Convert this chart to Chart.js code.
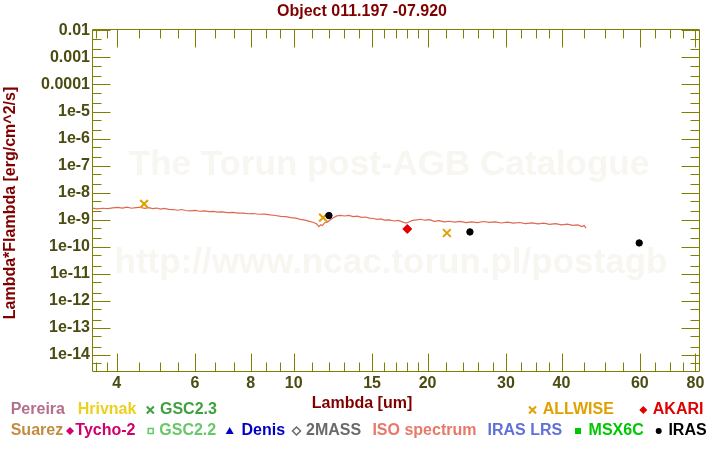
<!DOCTYPE html>
<html>
<head>
<meta charset="utf-8">
<script src="https://cdn.jsdelivr.net/npm/chart.js@4.4.0/dist/chart.umd.min.js"></script>
<style>
  html, body { margin: 0; padding: 0; background: #fff; }
  #wrap { width: 720px; height: 450px; }
</style>
</head>
<body>
<div id="wrap"><canvas id="sed" width="720" height="450"></canvas></div>
<script>
// SED plot - Torun post-AGB catalogue style

var FONT = "'Liberation Sans', Arial, Helvetica, sans-serif";
var AXIS = '#808000';
var LABEL = '#4b4b12';
var MAROON = '#800000';

// ---- data ----
var X_TICKS = [4, 6, 8, 10, 15, 20, 30, 40, 60, 80];
var X_MINOR = [3.6, 3.8, 4.5, 5, 5.5, 6.667, 7.333, 8.667, 9.333, 11, 12, 13, 14, 16, 17, 18, 19,
               22, 24, 26, 28, 32.5, 35, 37.5, 45, 50, 55, 65, 70, 75];
var Y_TICKS = [1e-2, 1e-3, 1e-4, 1e-5, 1e-6, 1e-7, 1e-8, 1e-9, 1e-10, 1e-11, 1e-12, 1e-13, 1e-14];
var Y_TICK_LABELS = ['0.01', '0.001', '0.0001', '1e-5', '1e-6', '1e-7', '1e-8', '1e-9',
                     '1e-10', '1e-11', '1e-12', '1e-13', '1e-14'];
var Y_MINOR_MULT = [2, 5];

// ISO spectrum (um, erg/cm^2/s)
var ISO_LAMBDA = [3.52, 3.62, 3.72, 3.82, 3.92, 4.02, 4.12, 4.22, 4.32, 4.42, 4.52, 4.62, 4.72, 4.82, 4.92,
  5.02, 5.12, 5.24, 5.36, 5.48, 5.60, 5.72, 5.85, 6.0, 6.15, 6.3, 6.45, 6.6, 6.75, 6.9,
  7.1, 7.3, 7.5, 7.7, 7.9, 8.1, 8.35, 8.6, 8.85, 9.1, 9.35, 9.6, 9.85, 10.1, 10.35, 10.6,
  10.85, 11.05, 11.25, 11.4, 11.5, 11.6, 11.75, 11.9, 12.05, 12.25, 12.5, 12.75, 13.0, 13.3,
  13.6, 13.9, 14.2, 14.5, 14.8, 15.1, 15.4, 15.7, 16.0, 16.4, 16.8, 17.2, 17.6, 17.9, 18.2,
  18.5, 18.9, 19.3, 19.7, 20.2, 20.7, 21.2, 21.8, 22.4, 23.0, 23.7, 24.4, 25.1, 25.9, 26.7,
  27.5, 28.4, 29.3, 30.2, 31.2, 32.2, 33.2, 34.3, 35.4, 36.5, 37.6, 38.8, 40.0, 41.2, 42.4,
  43.5, 44.4, 45.0, 45.4];
var ISO_FLUX = [2.66e-9, 2.50e-9, 2.63e-9, 2.57e-9, 2.70e-9, 2.83e-9, 2.68e-9, 2.90e-9, 2.63e-9, 2.78e-9,
  2.87e-9, 2.60e-9, 2.76e-9, 2.57e-9, 2.68e-9, 2.45e-9, 2.61e-9, 2.39e-9, 2.36e-9, 2.22e-9,
  2.36e-9, 2.17e-9, 2.10e-9, 2.19e-9, 2.04e-9, 2.12e-9, 1.96e-9, 2.03e-9, 1.88e-9, 1.93e-9,
  1.82e-9, 1.85e-9, 1.74e-9, 1.75e-9, 1.65e-9, 1.68e-9, 1.58e-9, 1.60e-9, 1.49e-9, 1.42e-9,
  1.31e-9, 1.28e-9, 1.19e-9, 1.13e-9, 1.02e-9, 0.96e-9, 0.86e-9, 0.80e-9, 0.70e-9, 0.55e-9,
  0.65e-9, 0.60e-9, 0.77e-9, 0.81e-9, 0.95e-9, 1.14e-9, 1.37e-9, 1.44e-9, 1.36e-9, 1.43e-9,
  1.30e-9, 1.34e-9, 1.21e-9, 1.25e-9, 1.13e-9, 1.10e-9, 1.02e-9, 1.06e-9, 0.96e-9, 0.98e-9,
  0.89e-9, 0.93e-9, 0.81e-9, 0.74e-9, 0.83e-9, 0.93e-9, 0.97e-9, 1.03e-9, 0.95e-9, 0.99e-9,
  0.86e-9, 0.92e-9, 0.82e-9, 0.87e-9, 0.81e-9, 0.86e-9, 0.78e-9, 0.83e-9, 0.77e-9, 0.85e-9,
  0.79e-9, 0.82e-9, 0.75e-9, 0.80e-9, 0.74e-9, 0.78e-9, 0.71e-9, 0.76e-9, 0.69e-9, 0.74e-9,
  0.67e-9, 0.71e-9, 0.64e-9, 0.68e-9, 0.61e-9, 0.64e-9, 0.55e-9, 0.60e-9, 0.48e-9];

var ALLWISE_LAMBDA = [4.61, 11.64, 22.1];
var ALLWISE_FLUX = [3.8e-9, 1.18e-9, 3.2e-10];
var IRAS_LAMBDA = [12.0, 24.9, 59.8];
var IRAS_FLUX = [1.41e-9, 3.5e-10, 1.37e-10];
var AKARI_LAMBDA = [18.0];
var AKARI_FLUX = [4.5e-10];

function pts(xs, ys) {
  return xs.map(function (x, i) { return { x: x, y: ys[i] }; });
}

// ---- legend (text + marker), drawn below the plot ----
var LEGEND = [
  { t: 'Pereira', c: '#b46e8c', x: 10.7, row: 0 },
  { t: 'Hrivnak', c: '#ecd020', x: 77.7, row: 0 },
  { t: 'GSC2.3', c: '#40a040', x: 160, row: 0, m: 'x', mx: 150.3 },
  { t: 'ALLWISE', c: '#e0a000', x: 542.7, row: 0, m: 'x', mx: 532.5 },
  { t: 'AKARI', c: '#e00000', x: 652.8, row: 0, m: 'diamond', mx: 643.3 },
  { t: 'Suarez', c: '#c48c40', x: 10.7, row: 1 },
  { t: 'Tycho-2', c: '#d0006c', x: 75.3, row: 1, m: 'diamond', mx: 70 },
  { t: 'GSC2.2', c: '#66c866', x: 159.3, row: 1, m: 'squareOpen', mx: 150.7 },
  { t: 'Denis', c: '#0000c8', x: 241.5, row: 1, m: 'triangle', mx: 229.7 },
  { t: '2MASS', c: '#6a6a6a', x: 306, row: 1, m: 'diamondOpen', mx: 296.5 },
  { t: 'ISO spectrum', c: '#e87868', x: 372.4, row: 1 },
  { t: 'IRAS LRS', c: '#6070d8', x: 487.5, row: 1 },
  { t: 'MSX6C', c: '#00c800', x: 588.6, row: 1, m: 'square', mx: 578 },
  { t: 'IRAS', c: '#000000', x: 668.4, row: 1, m: 'dot', mx: 658.7 }
];
var ROW_Y = [410, 431];

function drawMark(ctx, kind, cx, cy, color) {
  ctx.save();
  ctx.fillStyle = color; ctx.strokeStyle = color;
  ctx.beginPath();
  if (kind === 'x') {
    ctx.lineWidth = 2;
    ctx.moveTo(cx - 3.5, cy - 3.5); ctx.lineTo(cx + 3.5, cy + 3.5);
    ctx.moveTo(cx + 3.5, cy - 3.5); ctx.lineTo(cx - 3.5, cy + 3.5);
    ctx.stroke();
  } else if (kind === 'diamond' || kind === 'diamondOpen') {
    ctx.moveTo(cx, cy - 4); ctx.lineTo(cx + 4, cy); ctx.lineTo(cx, cy + 4); ctx.lineTo(cx - 4, cy);
    ctx.closePath();
    if (kind === 'diamond') ctx.fill(); else { ctx.lineWidth = 1.5; ctx.stroke(); }
  } else if (kind === 'squareOpen') {
    ctx.lineWidth = 1.5;
    ctx.strokeRect(cx - 2.5, cy - 2.5, 5, 5);
  } else if (kind === 'square') {
    ctx.fillRect(cx - 3, cy - 3, 6, 6);
  } else if (kind === 'triangle') {
    ctx.moveTo(cx, cy - 4); ctx.lineTo(cx + 4, cy + 3); ctx.lineTo(cx - 4, cy + 3);
    ctx.closePath(); ctx.fill();
  } else if (kind === 'dot') {
    ctx.arc(cx, cy, 3, 0, Math.PI * 2); ctx.fill();
  }
  ctx.restore();
}

var framePlugin = {
  id: 'frame',
  beforeDatasetsDraw: function (chart) {
    var ctx = chart.ctx;
    ctx.save();
    ctx.fillStyle = '#f8f6f1';
    ctx.font = 'bold 35px ' + FONT;
    ctx.textAlign = 'center';
    ctx.textBaseline = 'alphabetic';
    ctx.fillText('The Torun post-AGB Catalogue', 389, 175);
    ctx.fillText('http://www.ncac.torun.pl/postagb', 391, 273);
    ctx.restore();
  },
  afterDatasetsDraw: function (chart) {
    var ctx = chart.ctx, a = chart.chartArea;
    var xs = chart.scales.x, ys = chart.scales.y;
    var L = a.left + 0.5, R = a.right + 0.5, T = a.top + 0.5, B = a.bottom + 0.5;
    ctx.save();
    ctx.strokeStyle = AXIS;
    ctx.lineWidth = 1;
    ctx.beginPath();
    ctx.rect(L, T, R - L, B - T);
    function xTick(v, len) {
      var p = Math.round(xs.getPixelForValue(v)) + 0.5;
      ctx.moveTo(p, B); ctx.lineTo(p, B - len);
      ctx.moveTo(p, T); ctx.lineTo(p, T + len);
    }
    function yTick(v, len) {
      var p = Math.round(ys.getPixelForValue(v)) + 0.5;
      if (p < T || p > B) return;
      ctx.moveTo(L, p); ctx.lineTo(L + len, p);
      ctx.moveTo(R, p); ctx.lineTo(R - len, p);
    }
    X_TICKS.forEach(function (v) { xTick(v, 18); });
    X_MINOR.forEach(function (v) { xTick(v, 9); });
    Y_TICKS.forEach(function (v) {
      yTick(v, 18);
      Y_MINOR_MULT.forEach(function (m) { yTick(v * m, 9); });
    });
    yTick(1e-15 * 5, 9);
    ctx.stroke();
    ctx.restore();
  },
  afterDraw: function (chart) {
    var ctx = chart.ctx;
    ctx.save();
    ctx.fillStyle = MAROON;
    ctx.font = 'bold 16px ' + FONT;
    ctx.textAlign = 'center';
    ctx.textBaseline = 'middle';
    ctx.fillText('Object 011.197 -07.920', 362, 12);
    ctx.fillText('Lambda [um]', 362, 404);
    ctx.save();
    ctx.translate(11, 203);
    ctx.rotate(-Math.PI / 2);
    ctx.fillText('Lambda*Flambda [erg/cm^2/s]', 0, 0);
    ctx.restore();

    ctx.textAlign = 'left';
    LEGEND.forEach(function (it) {
      var y = ROW_Y[it.row];
      if (it.m) drawMark(ctx, it.m, it.mx, y, it.c);
      ctx.fillStyle = it.c;
      ctx.fillText(it.t, it.x, y);
    });
    ctx.restore();
  }
};

var tickFont = { family: FONT, size: 16, weight: 'bold' };

new Chart(document.getElementById('sed').getContext('2d'), {
  type: 'scatter',
  data: {
    datasets: [
      {
        label: 'ISO spectrum',
        data: pts(ISO_LAMBDA, ISO_FLUX),
        showLine: true, borderColor: '#e0684f', borderWidth: 1.2,
        pointRadius: 0, tension: 0, order: 4
      },
      {
        label: 'ALLWISE',
        data: pts(ALLWISE_LAMBDA, ALLWISE_FLUX),
        pointStyle: 'crossRot', pointRadius: 5.5, borderWidth: 2,
        borderColor: '#e0a000', backgroundColor: '#e0a000', order: 1
      },
      {
        label: 'AKARI',
        data: pts(AKARI_LAMBDA, AKARI_FLUX),
        pointStyle: 'rectRot', pointRadius: 4.5, borderWidth: 1,
        borderColor: '#e00000', backgroundColor: '#e00000', order: 2
      },
      {
        label: 'IRAS',
        data: pts(IRAS_LAMBDA, IRAS_FLUX),
        pointStyle: 'circle', pointRadius: 3.2, borderWidth: 1,
        borderColor: '#000000', backgroundColor: '#000000', order: 0
      }
    ]
  },
  options: {
    responsive: false, animation: false, devicePixelRatio: 1,
    layout: { padding: { left: 0, right: 21, top: 29, bottom: 0 } },
    plugins: { legend: { display: false }, tooltip: { enabled: false }, title: { display: false } },
    scales: {
      x: {
        type: 'logarithmic', position: 'bottom', min: 3.52, max: 81.5,
        grid: { display: false, drawTicks: false }, border: { display: false },
        afterBuildTicks: function (s) { s.ticks = X_TICKS.map(function (v) { return { value: v }; }); },
        afterFit: function (s) { s.height = 79; },
        ticks: {
          autoSkip: false, maxRotation: 0, padding: 3, color: LABEL, font: tickFont,
          callback: function (v) { return String(v); }
        }
      },
      y: {
        type: 'logarithmic', position: 'left', min: 2.5e-15, max: 0.0113,
        grid: { display: false, drawTicks: false }, border: { display: false },
        afterBuildTicks: function (s) { s.ticks = Y_TICKS.map(function (v) { return { value: v }; }); },
        afterFit: function (s) { s.width = 92; },
        ticks: {
          autoSkip: false, padding: 2, color: LABEL, font: tickFont,
          callback: function (v, i) { return Y_TICK_LABELS[i]; }
        }
      }
    }
  },
  plugins: [framePlugin]
});
</script>
</body>
</html>
